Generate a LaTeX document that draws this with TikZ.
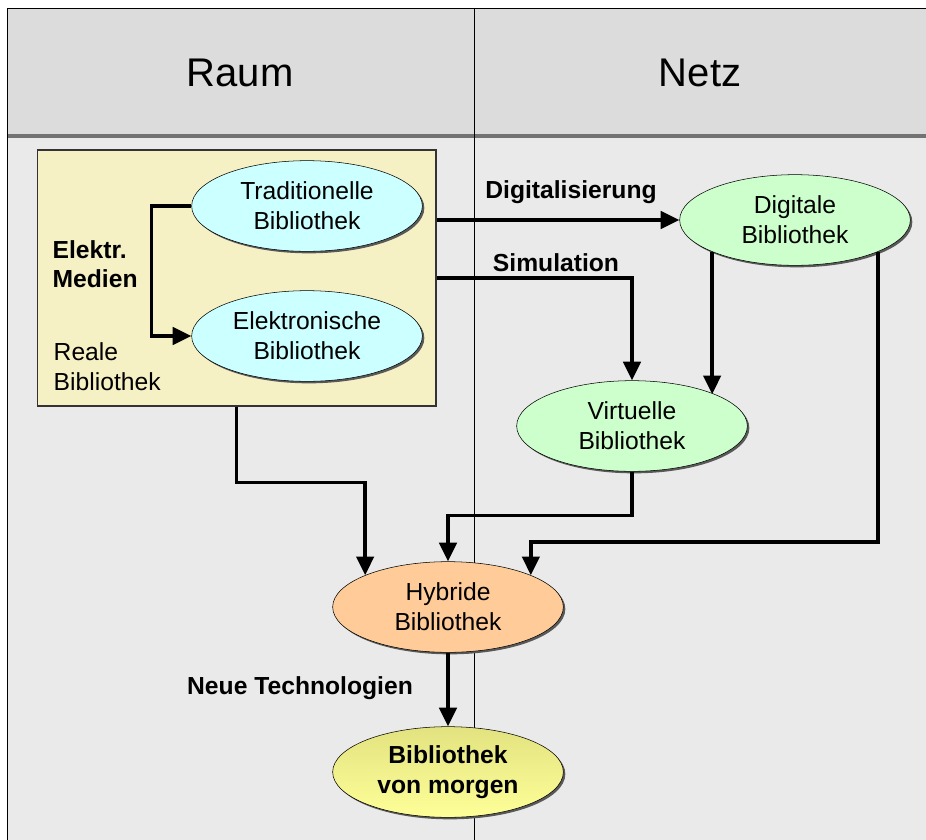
\documentclass[tikz,border=0pt]{standalone}
\usepackage{fontspec}
\setmainfont{Liberation Sans}
\usetikzlibrary{shapes.geometric,arrows.meta,shadows}

\definecolor{headgray}{RGB}{220,220,220}
\definecolor{lanegray}{RGB}{234,234,234}
\definecolor{realbox}{RGB}{246,241,196}
\definecolor{cyanlib}{RGB}{204,255,255}
\definecolor{greenlib}{RGB}{204,255,204}
\definecolor{orangelib}{RGB}{255,204,153}

\tikzset{
  lib/.style={ellipse,draw,thin,minimum width=173pt,minimum height=68pt,inner sep=0pt,
    align=center,font=\fontsize{18.5}{22.5}\selectfont,
    drop shadow={shadow xshift=1.5pt,shadow yshift=-1.5pt,fill=black!65,opacity=1}},
  lbl/.style={font=\bfseries\fontsize{18.5}{22}\selectfont,inner sep=1pt},
  flow/.style={-{Triangle[length=14pt,width=13pt]},line width=2.6pt},
  lane/.style={font=\fontsize{30}{33}\selectfont},
}

\begin{document}
\begin{tikzpicture}[x=0.75pt,y=-0.75pt]
  \useasboundingbox (0,0) rectangle (926,840);
  % lanes
  \fill[lanegray] (7,135) rectangle (926,840);
  \fill[headgray] (7,8) rectangle (926,135);
  \draw[line width=2.5pt,black!55] (7,136) -- (926,136);
  \draw (926,8) -- (7,8) -- (7,840);
  \draw (474,8) -- (474,840);
  \node[lane] (raum) at (240,73) {Raum};
  \node[lane] (netz) at (700,73) {Netz};

  % reale Bibliothek
  \node[draw=black!80,line width=1pt,fill=realbox,minimum width=299pt,minimum height=192pt,inner sep=0pt]
    (real) at (236.5,278) {};
  \node[lib,fill=cyanlib] (trad) at (307,206) {Traditionelle\\Bibliothek};
  \node[lib,fill=cyanlib] (elek) at (307,336) {Elektronische\\Bibliothek};
  \node[lbl,align=left,anchor=west] (medien) at (51,264) {Elektr.\\Medien};
  \node[align=left,anchor=west,font=\fontsize{18.5}{22.5}\selectfont] (reale) at (49,367) {Reale\\Bibliothek};

  % netz
  \node[lib,fill=greenlib] (digi) at (795,220) {Digitale\\Bibliothek};
  \node[lib,fill=greenlib] (virt) at (632,426) {Virtuelle\\Bibliothek};
  \node[lib,fill=orangelib] (hyb) at (448,607) {Hybride\\Bibliothek};
  \node[lib,top color={rgb,255:red,226;green,226;blue,128},bottom color={rgb,255:red,255;green,255;blue,153},
    font=\bfseries\fontsize{18.5}{22.5}\selectfont] (morgen) at (448,772) {Bibliothek\\von morgen};

  \node[lbl] (digit) at (571,192) {Digitalisierung};
  \node[lbl] (simul) at (556,263) {Simulation};
  \node[lbl] (neue) at (300,688) {Neue Technologien};

  \draw[flow] (trad.west) -- ++(-40,0) |- (elek.west);
  \draw[flow] (real.east |- digi) -- (digi);
  \draw[flow] (real.east) -| (virt.north);
  \draw[flow] (digi.201) -- (digi.201 |- virt.21);
  \draw[flow] (real.south) -- ++(0,76) -| (hyb.159);
  \draw[flow] (virt.south) -- ++(0,44) -| (hyb.north);
  \draw[flow] (digi.-21) -- ++(0,290) -| (hyb.21);
  \draw[flow] (hyb) -- (morgen);
\end{tikzpicture}
\end{document}
